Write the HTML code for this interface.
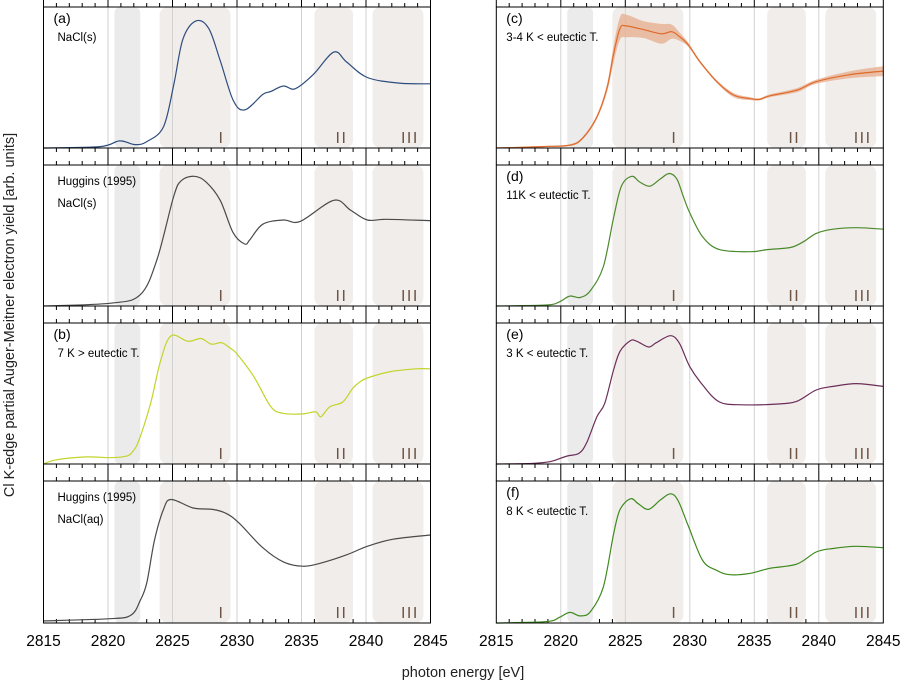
<!DOCTYPE html>
<html><head><meta charset="utf-8"><style>
body{margin:0;background:#fff}
svg{display:block;font-family:"Liberation Sans",sans-serif}
</style></head><body>
<svg id="chart" width="901" height="684" viewBox="0 0 901 684"></svg>
<script>
const ticksMajor=[2815,2820,2825,2830,2835,2840,2845];
const eA=[2815,2819.4,2820.9,2822.1,2823.0,2824.3,2825.1,2825.8,2826.8,2827.8,2828.7,2829.7,2830.6,2832.0,2832.6,2833.6,2834.5,2835.9,2837.5,2838.5,2840.1,2842.6,2845];
const vA=[0,0.01,0.05,0.024,0.045,0.15,0.45,0.77,0.90,0.85,0.62,0.34,0.27,0.38,0.40,0.44,0.42,0.52,0.68,0.61,0.50,0.46,0.455];
const eHs=[2815,2820.2,2822.5,2823.8,2825.1,2825.7,2826.7,2827.6,2828.7,2829.7,2830.6,2831.0,2832.0,2833.6,2834.9,2837.5,2838.8,2840.1,2841.6,2845];
const vHs=[0,0.02,0.08,0.33,0.78,0.89,0.92,0.88,0.75,0.52,0.44,0.47,0.58,0.61,0.60,0.75,0.68,0.61,0.615,0.605];
const eB=[2815,2816.0,2818.3,2820.2,2821.4,2821.9,2822.4,2823.3,2824.1,2824.9,2826.2,2827.2,2828.0,2828.8,2829.5,2830.0,2831.3,2832.6,2833.5,2835.1,2836.1,2836.5,2837.2,2838.2,2839.0,2839.5,2840.1,2841.9,2843.9,2845];
const vB=[0,0.03,0.05,0.045,0.055,0.087,0.17,0.43,0.74,0.91,0.87,0.89,0.85,0.86,0.82,0.78,0.62,0.41,0.36,0.355,0.37,0.335,0.406,0.44,0.54,0.58,0.61,0.655,0.675,0.675];
const eHaq=[2815,2820.2,2821.8,2822.5,2823.0,2823.6,2824.3,2824.9,2826.6,2828.1,2829.2,2830.2,2832.0,2833.6,2835.1,2836.4,2838.5,2840.1,2842.1,2845];
const vHaq=[0.015,0.03,0.056,0.16,0.28,0.58,0.80,0.87,0.81,0.80,0.77,0.70,0.53,0.43,0.40,0.42,0.48,0.54,0.59,0.62];
const eC=[2815,2818.6,2820.7,2821.7,2822.8,2823.6,2824.1,2824.6,2825.1,2826.4,2827.8,2828.6,2829.2,2829.9,2830.8,2832.1,2833.4,2834.7,2835.4,2836.2,2838.3,2839.8,2842.4,2845];
const vC=[0,0.01,0.02,0.07,0.22,0.43,0.67,0.85,0.865,0.84,0.81,0.825,0.79,0.73,0.61,0.47,0.375,0.35,0.345,0.37,0.41,0.47,0.52,0.545];
const errC=[0.003,0.005,0.008,0.01,0.015,0.03,0.06,0.08,0.08,0.06,0.07,0.05,0.03,0.015,0.01,0.01,0.015,0.01,0.008,0.01,0.015,0.015,0.025,0.035];
const eD=[2815,2818.9,2819.9,2820.7,2821.5,2822.3,2823.3,2824.1,2824.7,2825.5,2826.1,2826.9,2827.7,2828.4,2829.0,2829.5,2830.0,2831.0,2832.3,2834.7,2836.0,2837.8,2838.8,2839.8,2841.1,2842.9,2845];
const vD=[0,0.007,0.03,0.07,0.06,0.11,0.28,0.63,0.85,0.92,0.88,0.85,0.90,0.94,0.90,0.775,0.66,0.49,0.40,0.385,0.40,0.415,0.455,0.515,0.545,0.555,0.545];
const eE=[2815,2817.9,2819.2,2820.5,2821.4,2822.0,2822.8,2823.4,2824.1,2824.6,2825.4,2825.9,2826.8,2827.4,2828.5,2829.2,2830.0,2831.0,2832.3,2834.1,2836.7,2838.3,2839.8,2841.1,2842.9,2845];
const vE=[0,0.005,0.017,0.057,0.075,0.15,0.335,0.43,0.67,0.80,0.875,0.87,0.83,0.86,0.91,0.855,0.69,0.56,0.44,0.42,0.425,0.445,0.525,0.55,0.57,0.55];
const eF=[2815,2818.9,2819.9,2820.7,2821.5,2822.3,2823.3,2824.1,2824.6,2825.4,2826.0,2826.8,2827.7,2828.5,2829.1,2829.9,2831.0,2832.1,2833.1,2834.7,2836.2,2838.3,2839.8,2841.1,2842.9,2845];
const vF=[0,0.01,0.04,0.075,0.05,0.08,0.255,0.63,0.80,0.875,0.84,0.80,0.865,0.91,0.86,0.68,0.44,0.37,0.34,0.35,0.385,0.415,0.50,0.525,0.54,0.53];
const bandStarts=[2824.0,2836.0,2840.5];
const bandEnds=[2829.5,2839.0,2844.45];
const bandLabels=["I","II","III"];
const bandLabelE=[2828.8,2838.1,2843.4];

const svg=document.getElementById('chart');
const NS='http://www.w3.org/2000/svg';
function mk(t,a,p){const e=document.createElementNS(NS,t);for(const k in a)e.setAttribute(k,a[k]);(p||svg).appendChild(e);return e;}
const rows=[{top:7,bot:148},{top:165,bot:306},{top:323,bot:464},{top:481,bot:623}];
const cols=[43.5,496.3];
const W=387;
function xs(c,e){return cols[c]+(e-2815)/30*W;}
function ys(r,v){return rows[r].bot-v*(rows[r].bot-rows[r].top);}
function pathFrom(pts){let d='M'+pts[0][0]+','+pts[0][1];for(let i=0;i<pts.length-1;i++){const p0=pts[Math.max(0,i-1)],p1=pts[i],p2=pts[i+1],p3=pts[Math.min(pts.length-1,i+2)];
const c1x=p1[0]+(p2[0]-p0[0])/6,c1y=p1[1]+(p2[1]-p0[1])/6,c2x=p2[0]-(p3[0]-p1[0])/6,c2y=p2[1]-(p3[1]-p1[1])/6;
d+=' C'+c1x.toFixed(1)+','+c1y.toFixed(1)+' '+c2x.toFixed(1)+','+c2y.toFixed(1)+' '+p2[0].toFixed(1)+','+p2[1].toFixed(1);}return d;}

const panels=[
 {c:0,r:0,e:eA,v:vA,col:'#2d4d7e',lab:'(a)',t:['NaCl(s)'],name:'panel-a'},
 {c:0,r:1,e:eHs,v:vHs,col:'#4a4a4a',lab:'',t:['Huggins (1995)','NaCl(s)'],name:'panel-huggins-solid'},
 {c:0,r:2,e:eB,v:vB,col:'#c2d42a',lab:'(b)',t:['7 K > eutectic T.'],name:'panel-b'},
 {c:0,r:3,e:eHaq,v:vHaq,col:'#4a4a4a',lab:'',t:['Huggins (1995)','NaCl(aq)'],name:'panel-huggins-aq'},
 {c:1,r:0,e:eC,v:vC,col:'#df6a2a',lab:'(c)',t:['3-4 K < eutectic T.'],err:errC,name:'panel-c'},
 {c:1,r:1,e:eD,v:vD,col:'#4b8a2c',lab:'(d)',t:['11K < eutectic T.'],name:'panel-d'},
 {c:1,r:2,e:eE,v:vE,col:'#6b2d58',lab:'(e)',t:['3 K < eutectic T.'],name:'panel-e'},
 {c:1,r:3,e:eF,v:vF,col:'#3e8a1e',lab:'(f)',t:['8 K < eutectic T.'],name:'panel-f'}
];

for(let c=0;c<2;c++){
 const strips=[[0,7],[148,165],[306,323],[464,481]];
 strips.forEach((s,si)=>{
  const g=mk('g',{});
  
  
  for(let e=2815;e<=2845;e++){
   const x=xs(c,e);
   if(e%5===0){mk('line',{x1:x,x2:x,y1:s[0],y2:s[1],stroke:'#000','stroke-width':1},g);}
   else{
    if(si>0)mk('line',{x1:x,x2:x,y1:s[0],y2:s[0]+4,stroke:'#000','stroke-width':1},g);
    mk('line',{x1:x,x2:x,y1:s[1]-4,y2:s[1],stroke:'#000','stroke-width':1},g);
   }
  }
 });
 const g=mk('g',{});
 
 
 for(let e=2815;e<=2845;e++){const x=xs(c,e);if(e%5!==0)mk('line',{x1:x,x2:x,y1:619,y2:623,stroke:'#000'},g);}
 ticksMajor.forEach(t=>{const tx=mk('text',{x:xs(c,t),y:646,'text-anchor':'middle','font-size':15.5,fill:'#000'},g);tx.textContent=t;
  
  });
}

panels.forEach(p=>{
 const g=mk('g',{});
 
 
 const R=rows[p.r],x0=cols[p.c];
 mk('rect',{x:xs(p.c,2820.5),y:R.top,width:xs(p.c,2822.5)-xs(p.c,2820.5),height:R.bot-R.top,rx:6,fill:'#ebebeb'},g);
 bandStarts.forEach((b,i)=>{mk('rect',{x:xs(p.c,b),y:R.top,width:xs(p.c,bandEnds[i])-xs(p.c,b),height:R.bot-R.top,rx:8,fill:'#f1edea'},g);});
 [2820,2825,2830,2835,2840].forEach(e=>mk('line',{x1:xs(p.c,e),x2:xs(p.c,e),y1:R.top,y2:R.bot,stroke:'#d2d2d2','stroke-width':1},g));
 bandLabels.forEach((l,i)=>{const t=mk('text',{x:xs(p.c,bandLabelE[i]),y:R.bot-5,'text-anchor':'middle','font-size':16,fill:'#6e5444','letter-spacing':'1.5'},g);t.textContent=l;
  
  });
 if(p.err){
  const up=p.e.map((e,i)=>[xs(p.c,e),ys(p.r,p.v[i]+p.err[i])]);
  const dn=p.e.map((e,i)=>[xs(p.c,e),ys(p.r,p.v[i]-p.err[i])]).reverse();
  const d=pathFrom(up)+' L'+pathFrom(dn).slice(1)+' Z';
  const b=mk('path',{d:d,fill:'#e7b092',opacity:0.8},g);
  
  
 }
 const pts=p.e.map((e,i)=>[xs(p.c,e),ys(p.r,p.v[i])]);
 const ln=mk('path',{d:pathFrom(pts),fill:'none',stroke:p.col,'stroke-width':1.2},g);
 
 
 mk('rect',{x:x0,y:R.top,width:W,height:R.bot-R.top,fill:'none',stroke:'#000','stroke-width':1},g);
 let ty;
 if(p.lab){const t=mk('text',{x:x0+10,y:R.top+16,'font-size':14,fill:'#000'},g);t.textContent=p.lab;
  
  ty=R.top+34;}
 else ty=R.top+20;
 p.t.forEach((s,i)=>{const t=mk('text',{x:x0+(p.c?10:14),y:ty+i*22,'font-size':11.5,fill:'#000'},g);t.textContent=s;
  
  });
});
const xt=mk('text',{x:463,y:677,'text-anchor':'middle','font-size':14.5,fill:'#222'});
xt.textContent='photon energy [eV]';


const yt=mk('text',{x:0,y:0,'text-anchor':'middle','font-size':14.5,fill:'#222',transform:'translate(14,315) rotate(-90)'});
yt.textContent='Cl K-edge partial Auger-Meitner electron yield  [arb. units]';


</script>
</body></html>
